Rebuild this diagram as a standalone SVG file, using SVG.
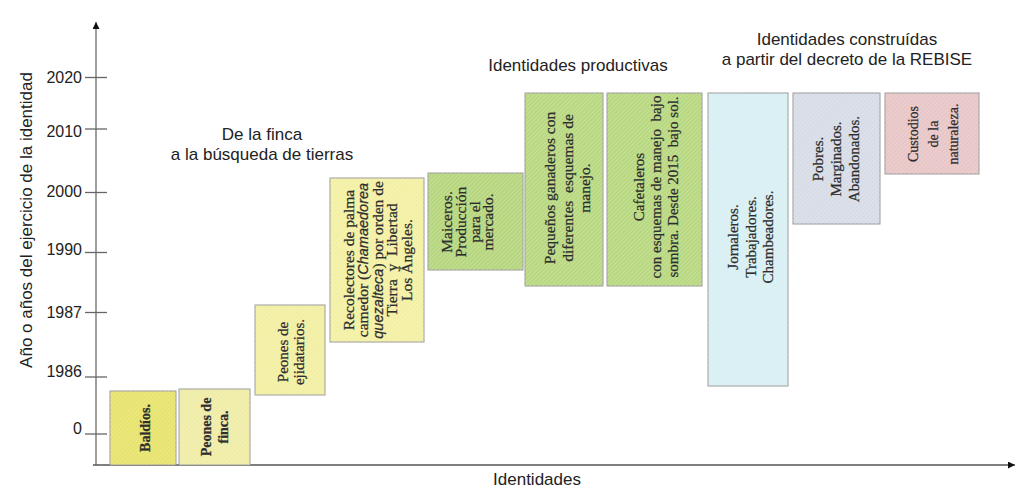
<svg xmlns="http://www.w3.org/2000/svg" width="1030" height="501" viewBox="0 0 1030 501">
<style>
.lbl{font-family:"Liberation Sans",Arial,sans-serif;font-size:17px;fill:#222}
.yr{font-family:"Liberation Sans",Arial,sans-serif;font-size:16px;fill:#222;text-anchor:end}
.bx{stroke:#9a9a9a;stroke-width:1}
.bt{font-family:"Liberation Serif","Times New Roman",serif;fill:#2e2e2e;stroke:#2e2e2e;stroke-width:0.25;text-anchor:middle;white-space:pre}
.it{font-family:"Liberation Sans",Arial,sans-serif;font-style:italic}
.tick{stroke:#666;stroke-width:1.3}
</style>
<defs>
<marker id="arr" viewBox="0 0 10 10" refX="10" refY="5" markerWidth="9" markerHeight="7" orient="auto" markerUnits="userSpaceOnUse">
<path d="M0,0 L10,5 L0,10 z" fill="#111"/>
</marker>
<pattern id="hatch" width="3" height="3" patternUnits="userSpaceOnUse" patternTransform="rotate(45)">
<rect width="1" height="3" fill="#ffffff" opacity="0.2"/>
</pattern>
</defs>
<rect width="1030" height="501" fill="#ffffff"/>

<g id="connectors">
<line x1="96" y1="465" x2="96" y2="22" stroke="#888" stroke-width="1.6" marker-end="url(#arr)"/>
<line x1="93" y1="465" x2="1015" y2="465" stroke="#555" stroke-width="1.6" marker-end="url(#arr)"/>
</g>

<g id="axis-y-ticks">
<line class="tick" x1="85" y1="77.5" x2="107" y2="77.5"/>
<line class="tick" x1="85" y1="129" x2="107" y2="129"/>
<line class="tick" x1="85" y1="192.5" x2="107" y2="192.5"/>
<line class="tick" x1="85" y1="252.5" x2="107" y2="252.5"/>
<line class="tick" x1="85" y1="312.5" x2="107" y2="312.5"/>
<line class="tick" x1="85" y1="377" x2="107" y2="377"/>
<line class="tick" x1="85" y1="434" x2="107" y2="434"/>
<text class="yr" x="82" y="83">2020</text>
<text class="yr" x="82" y="137">2010</text>
<text class="yr" x="82" y="197">2000</text>
<text class="yr" x="82" y="255">1990</text>
<text class="yr" x="82" y="318">1987</text>
<text class="yr" x="82" y="377">1986</text>
<text class="yr" x="82" y="434">0</text>
</g>

<g id="axis-labels">
<text class="lbl" text-anchor="middle" transform="translate(32,220) rotate(-90)">Año o años del ejercicio de la identidad</text>
<text class="lbl" text-anchor="middle" x="537" y="485">Identidades</text>
</g>

<g id="titles">
<text class="lbl" text-anchor="middle" x="262" y="140">De la finca</text>
<text class="lbl" text-anchor="middle" x="262" y="160">a la búsqueda de tierras</text>
<text class="lbl" text-anchor="middle" x="578" y="71">Identidades productivas</text>
<text class="lbl" text-anchor="middle" x="847" y="45">Identidades construídas</text>
<text class="lbl" text-anchor="middle" x="847" y="65">a partir del decreto de la REBISE</text>
</g>

<g id="n-baldios">
<rect class="bx" x="110" y="391" width="66" height="74" fill="#e7e36c"/>
<rect x="110" y="391" width="66" height="74" fill="url(#hatch)"/>
<text class="bt" font-size="14" font-weight="bold" transform="translate(145,428) rotate(-90)"><tspan x="0" y="5">Baldíos.</tspan></text>
</g>

<g id="n-peones-finca">
<rect class="bx" x="179" y="389" width="71" height="76" fill="#efeca6"/>
<rect x="179" y="389" width="71" height="76" fill="url(#hatch)"/>
<text class="bt" font-size="14" font-weight="bold" transform="translate(206,427) rotate(-90)"><tspan x="0" y="5">Peones de</tspan><tspan x="0" y="22">finca.</tspan></text>
</g>

<g id="n-peones-ejidatarios">
<rect class="bx" x="255" y="305" width="70" height="90" fill="#f2efa2"/>
<rect x="255" y="305" width="70" height="90" fill="url(#hatch)"/>
<text class="bt" font-size="15" transform="translate(283,352) rotate(-90)"><tspan x="0" y="5">Peones de</tspan><tspan x="0" y="21">ejidatarios.</tspan></text>
</g>

<g id="n-recolectores">
<rect class="bx" x="330" y="178" width="94" height="164" fill="#f3f0a3"/>
<rect x="330" y="178" width="94" height="164" fill="url(#hatch)"/>
<text class="bt" font-size="15.5" transform="translate(348,260) rotate(-90)"><tspan x="0" y="5.5">Recolectores de palma</tspan><tspan x="0" y="20">camedor (<tspan class="it" font-size="14.5">Chamaedorea</tspan></tspan><tspan x="0" y="34.5"><tspan class="it" font-size="14.5">quezalteca</tspan>) por orden de</tspan><tspan x="0" y="49">Tierra  y  Libertad</tspan><tspan x="0" y="63.5">Los Ángeles.</tspan></text>
</g>

<g id="n-maiceros">
<rect class="bx" x="428" y="173" width="95" height="97" fill="#b6d67d" stroke="#98b56a"/>
<rect x="428" y="173" width="95" height="97" fill="url(#hatch)"/>
<text class="bt" font-size="15.5" transform="translate(446,222) rotate(-90)"><tspan x="0" y="5.5">Maiceros.</tspan><tspan x="0" y="19.5">Producción</tspan><tspan x="0" y="33.5">para el</tspan><tspan x="0" y="47">mercado.</tspan></text>
</g>

<g id="n-ganaderos">
<rect class="bx" x="525" y="93" width="78" height="193" fill="#b8d880"/>
<rect x="525" y="93" width="78" height="193" fill="url(#hatch)"/>
<text class="bt" font-size="15.5" transform="translate(549,188) rotate(-90)"><tspan x="0" y="5.5">Pequeños ganaderos con</tspan><tspan x="0" y="23.5">diferentes  esquemas de</tspan><tspan x="0" y="41">manejo.</tspan></text>
</g>

<g id="n-cafetaleros">
<rect class="bx" x="607" y="93" width="95" height="193" fill="#b8d880"/>
<rect x="607" y="93" width="95" height="193" fill="url(#hatch)"/>
<text class="bt" font-size="15" transform="translate(639,187) rotate(-90)"><tspan x="0" y="5">Cafetaleros</tspan><tspan x="0" y="22">con esquemas de manejo  bajo</tspan><tspan x="0" y="38.5">sombra. Desde 2015  bajo sol.</tspan></text>
</g>

<g id="n-jornaleros">
<rect class="bx" x="708" y="93" width="80" height="293" fill="#d8eff3"/>
<rect x="708" y="93" width="80" height="293" fill="url(#hatch)"/>
<text class="bt" font-size="15" transform="translate(733,237) rotate(-90)"><tspan x="0" y="5">Jornaleros.</tspan><tspan x="0" y="22.5">Trabajadores.</tspan><tspan x="0" y="40">Chambeadores.</tspan></text>
</g>

<g id="n-pobres">
<rect class="bx" x="793" y="93" width="87" height="131" fill="#d6dce6"/>
<rect x="793" y="93" width="87" height="131" fill="url(#hatch)"/>
<text class="bt" font-size="15" transform="translate(818,159) rotate(-90)"><tspan x="0" y="5">Pobres.</tspan><tspan x="0" y="23">Marginados.</tspan><tspan x="0" y="41">Abandonados.</tspan></text>
</g>

<g id="n-custodios">
<rect class="bx" x="885" y="93" width="94" height="81" fill="#e8c5c6"/>
<rect x="885" y="93" width="94" height="81" fill="url(#hatch)"/>
<text class="bt" font-size="14" transform="translate(913,134) rotate(-90)"><tspan x="0" y="5">Custodios</tspan><tspan x="0" y="25">de la</tspan><tspan x="0" y="45">naturaleza.</tspan></text>
</g>
</svg>
